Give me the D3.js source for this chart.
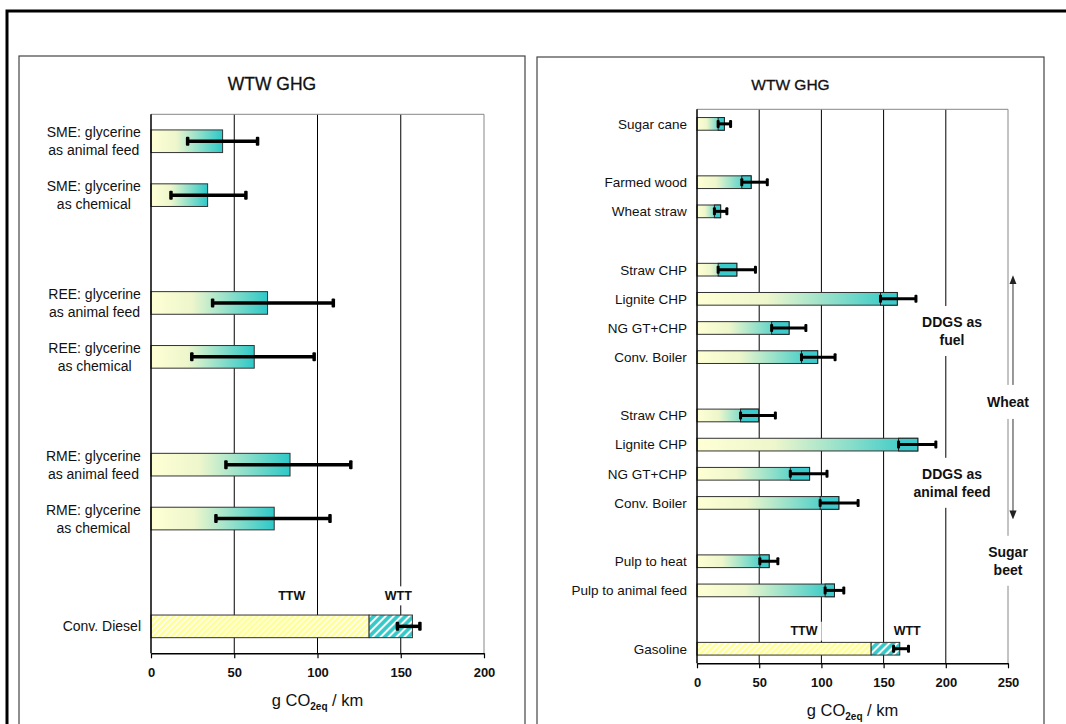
<!DOCTYPE html>
<html>
<head>
<meta charset="utf-8">
<script src="https://cdn.jsdelivr.net/npm/d3@7"></script>
<style>
  body { margin: 0; background: #fff; }
  svg { display: block; font-family: "Liberation Sans", Arial, sans-serif; }
</style>
</head>
<body>
<svg width="1066" height="724"></svg>
<script>
// ---- left chart: biodiesel pathways (g CO2eq / km) ----
const leftCats = ["SME: glycerine|as animal feed", "SME: glycerine|as chemical", "",
    "REE: glycerine|as animal feed", "REE: glycerine|as chemical", "",
    "RME: glycerine|as animal feed", "RME: glycerine|as chemical", "", "Conv. Diesel"];
const leftValues = [43, 34, null, 70, 62, null, 83.5, 74, null, null];
const leftLow = [22, 12, null, 37, 24.5, null, 45, 39, null, 148];
const leftHigh = [64, 57, null, 109.5, 98, null, 120, 107.5, null, 161.5];
const dieselTTW = 131;
const dieselWTT = 26;
const leftTicks = [0, 50, 100, 150, 200];

// ---- right chart: ethanol pathways ----
const rightCats = ["Sugar cane", "", "Farmed wood", "Wheat straw", "",
    "Straw CHP", "Lignite CHP", "NG GT+CHP", "Conv. Boiler", "",
    "Straw CHP", "Lignite CHP", "NG GT+CHP", "Conv. Boiler", "",
    "Pulp to heat", "Pulp to animal feed", "", "Gasoline"];
const rightValues = [22, null, 43.5, 19, null, 32, 161, 74, 97, null, 49.5, 177.5, 90.5, 114, null, 58, 110.5, null, null];
const rightLow = [17, null, 36, 14, null, 17, 147.5, 60, 84, null, 35, 162, 75, 99, null, 50.5, 103, null, 158];
const rightHigh = [27, null, 56.5, 24, null, 47, 176, 87.5, 111, null, 63, 192, 104.5, 129.5, null, 65, 118, null, 170];
const gasolineTTW = 140;
const gasolineWTT = 23;
const rightTicks = [0, 50, 100, 150, 200, 250];

const svg = d3.select("svg");
const defs = svg.append("defs");

const grad = defs.append("linearGradient").attr("id", "barGrad");
grad.append("stop").attr("offset", "0%").attr("stop-color", "#ffffd4");
grad.append("stop").attr("offset", "35%").attr("stop-color", "#eef6cc");
grad.append("stop").attr("offset", "100%").attr("stop-color", "#2ec8c8");

const hatch = (id, bg, w, lw) => {
    const p = defs.append("pattern").attr("id", id)
        .attr("patternUnits", "userSpaceOnUse")
        .attr("width", w).attr("height", w)
        .attr("patternTransform", "rotate(45)");
    p.append("rect").attr("width", w).attr("height", w).attr("fill", bg);
    p.append("line").attr("x1", w / 2).attr("x2", w / 2).attr("y1", 0).attr("y2", w)
        .attr("stroke", "#fff").attr("stroke-width", lw);
};
hatch("hatchY", "#ffff99", 4.2, 1.3);
hatch("hatchT", "#33c9c9", 5.6, 2);

defs.append("marker").attr("id", "arrowHead")
    .attr("viewBox", "0 0 10 10").attr("refX", 5).attr("refY", 5)
    .attr("markerWidth", 6).attr("markerHeight", 6).attr("orient", "auto-start-reverse")
    .append("path").attr("d", "M0,1L10,5L0,9Z").attr("fill", "#222");

// outer frame
svg.append("path").attr("d", "M7,730V11H1070")
    .attr("fill", "none").attr("stroke", "#000").attr("stroke-width", 3);

const addNote = (g, cx, cy, lines, size, padY, lineH) => {
    const n = g.append("g");
    const t = n.append("text")
        .attr("text-anchor", "middle")
        .attr("font-size", size).attr("font-weight", "bold").attr("fill", "#111");
    lines.forEach((l, i) => {
        t.append("tspan").attr("x", cx)
            .attr("y", cy + (i - (lines.length - 1) / 2) * lineH + size * 0.36)
            .text(l);
    });
    const b = t.node().getBBox();
    n.insert("rect", "text")
        .attr("x", b.x - 4).attr("y", b.y - padY)
        .attr("width", b.width + 8).attr("height", b.height + 2 * padY)
        .attr("fill", "#fff");
};

const drawPanel = p => {
    const g = svg.append("g");

    g.append("rect")
        .attr("x", p.box[0]).attr("y", p.box[1])
        .attr("width", p.box[2] - p.box[0]).attr("height", 760)
        .attr("fill", "#fff").attr("stroke", "#444").attr("stroke-width", 1.2);

    g.append("text")
        .attr("x", (p.box[0] + p.box[2]) / 2).attr("y", 90)
        .attr("text-anchor", "middle")
        .attr("font-size", p.titleSize).attr("fill", "#111")
        .attr("stroke", "#111").attr("stroke-width", 0.3)
        .text("WTW GHG");

    const x = d3.scaleLinear().domain([0, p.ticks[p.ticks.length - 1]]).range([p.left, p.right]);
    const keys = p.cats.map((d, i) => "c" + i);
    const y = d3.scaleBand().domain(keys)
        .range([p.top, p.bottom])
        .paddingInner(p.pad).paddingOuter(p.pad / 2);

    // grid
    g.selectAll(".grid").data(p.ticks.slice(1)).enter().append("line")
        .attr("x1", d => x(d)).attr("x2", d => x(d))
        .attr("y1", p.top).attr("y2", p.bottom)
        .attr("stroke", (d, i) => i === p.ticks.length - 2 ? "#888" : "#000")
        .attr("stroke-width", 1);
    g.append("line")
        .attr("x1", p.left).attr("x2", p.right)
        .attr("y1", p.top).attr("y2", p.top)
        .attr("stroke", "#888");

    const rows = p.cats.map((c, i) => ({
        key: keys[i], label: c, v: p.values[i], lo: p.low[i], hi: p.high[i]
    }));

    // category labels, wrapped lines centred as a block right of the axis
    rows.filter(d => d.label).forEach(d => {
        const lines = d.label.split("|");
        const c = y(d.key) + y.bandwidth() / 2;
        const t = g.append("text")
            .attr("font-size", p.labelSize).attr("fill", "#111")
            .attr("text-anchor", "middle");
        lines.forEach((l, i) => {
            t.append("tspan")
                .attr("x", 0)
                .attr("y", c + (i - (lines.length - 1) / 2) * 18 + p.labelSize * 0.36)
                .text(l);
        });
        const w = t.node().getBBox().width;
        t.selectAll("tspan").attr("x", p.left - 10 - w / 2);
    });

    // gradient bars
    const bars = rows.filter(d => d.v != null);
    g.selectAll(".bar").data(bars).enter().append("rect")
        .attr("x", x(0))
        .attr("y", d => y(d.key))
        .attr("width", d => x(d.v) - x(0))
        .attr("height", y.bandwidth())
        .attr("fill", "url(#barGrad)")
        .attr("stroke", "#333").attr("stroke-width", 1);

    if (p.segment) {
        g.selectAll(".seg").data(bars).enter().append("rect")
            .attr("x", d => x(d.lo))
            .attr("y", d => y(d.key))
            .attr("width", d => x(d.v) - x(d.lo))
            .attr("height", y.bandwidth())
            .attr("fill", "#3ccaca")
            .attr("stroke", "#222").attr("stroke-width", 1);
    }

    // reference fuel: TTW + WTT stacked
    const ref = keys[keys.length - 1];
    g.append("rect")
        .attr("x", x(0)).attr("y", y(ref))
        .attr("width", x(p.ttw) - x(0)).attr("height", y.bandwidth())
        .attr("fill", "url(#hatchY)").attr("stroke", "#333");
    g.append("rect")
        .attr("x", x(p.ttw)).attr("y", y(ref))
        .attr("width", x(p.ttw + p.wtt) - x(p.ttw)).attr("height", y.bandwidth())
        .attr("fill", "url(#hatchT)").attr("stroke", "#333");

    // error bars
    const errs = rows.filter(d => d.lo != null);
    const cy = d => y(d.key) + y.bandwidth() / 2;
    g.selectAll(".err").data(errs).enter().append("line")
        .attr("x1", d => x(d.lo)).attr("x2", d => x(d.hi))
        .attr("y1", cy).attr("y2", cy)
        .attr("stroke", "#000").attr("stroke-width", p.errW);
    ["lo", "hi"].forEach(k => {
        g.selectAll(".cap-" + k).data(errs).enter().append("rect")
            .attr("x", d => x(d[k]) - p.errW / 2)
            .attr("y", d => cy(d) - p.capH / 2)
            .attr("width", p.errW).attr("height", p.capH)
            .attr("rx", 1)
            .attr("fill", "#000");
    });

    // TTW / WTT labels
    const refY = y(ref) + y.bandwidth() / 2 - p.noteOff;
    addNote(g, x(p.ttwX), refY, ["TTW"], 12.5, 2.5, 16);
    addNote(g, x(p.wttX), refY, ["WTT"], 12.5, 2.5, 16);

    // axes
    g.append("line")
        .attr("x1", p.left).attr("x2", p.left)
        .attr("y1", p.top).attr("y2", p.bottom)
        .attr("stroke", "#000").attr("stroke-width", 1.5);

    const xAxisG = g.append("g")
        .attr("transform", `translate(0,${p.bottom})`)
        .call(d3.axisBottom(x).tickValues(p.ticks).tickSize(5).tickSizeOuter(0));
    xAxisG.select(".domain").attr("stroke", "#000").attr("stroke-width", 1.5);
    xAxisG.selectAll(".tick line").attr("stroke", "#000").attr("stroke-width", 1.2);
    xAxisG.selectAll("text")
        .attr("y", 14).attr("dy", "0.71em")
        .attr("font-size", 13).attr("font-weight", "bold")
        .attr("font-family", "Liberation Sans, Arial, sans-serif")
        .attr("fill", "#111");

    const at = g.append("text")
        .attr("x", (p.left + p.right) / 2).attr("y", p.bottom + 53)
        .attr("text-anchor", "middle").attr("font-size", 16.5).attr("fill", "#111");
    at.append("tspan").text("g CO");
    at.append("tspan").attr("font-size", 10).attr("font-weight", "bold").attr("dy", 4).text("2eq");
    at.append("tspan").attr("dy", -4).text(" /  km");

    return { g, x, y, keys };
};

drawPanel({
    box: [19, 56, 525], titleSize: 17.5, labelSize: 14,
    cats: leftCats, values: leftValues, low: leftLow, high: leftHigh,
    ticks: leftTicks, left: 151, right: 484, top: 114.3, bottom: 653.3, pad: 0.58,
    ttw: dieselTTW, wtt: dieselWTT, ttwX: 84.5, wttX: 148.5, noteOff: 31,
    errW: 3.5, capH: 9, segment: false
});

const right = drawPanel({
    box: [537, 57, 1044], titleSize: 15.5, labelSize: 13.5,
    cats: rightCats, values: rightValues, low: rightLow, high: rightHigh,
    ticks: rightTicks, left: 697, right: 1008, top: 109.3, bottom: 663.3, pad: 0.565,
    ttw: gasolineTTW, wtt: gasolineWTT, ttwX: 86, wttX: 169, noteOff: 18,
    errW: 3, capH: 8, segment: true
});

// group annotations on the right chart
const rx = right.x, ry = right.y, rk = right.keys;
const rc = i => ry(rk[i]) + ry.bandwidth() / 2;

right.g.append("line")
    .attr("x1", rx(254)).attr("x2", rx(254))
    .attr("y1", rc(6) - 19).attr("y2", rc(13) + 12)
    .attr("stroke", "#777").attr("stroke-width", 1.5)
    .attr("marker-start", "url(#arrowHead)")
    .attr("marker-end", "url(#arrowHead)");

addNote(right.g, rx(205), rc(7) + 3, ["DDGS as", "fuel"], 14, 8, 18);
addNote(right.g, rx(205), rc(12) + 9, ["DDGS as", "animal feed"], 14, 8, 18);
addNote(right.g, rx(250), (rc(9) + rc(10)) / 2 + 1, ["Wheat"], 14, 9, 18);
addNote(right.g, rx(250), rc(15) - 0.5, ["Sugar", "beet"], 14, 8, 18);
</script>
</body>
</html>
